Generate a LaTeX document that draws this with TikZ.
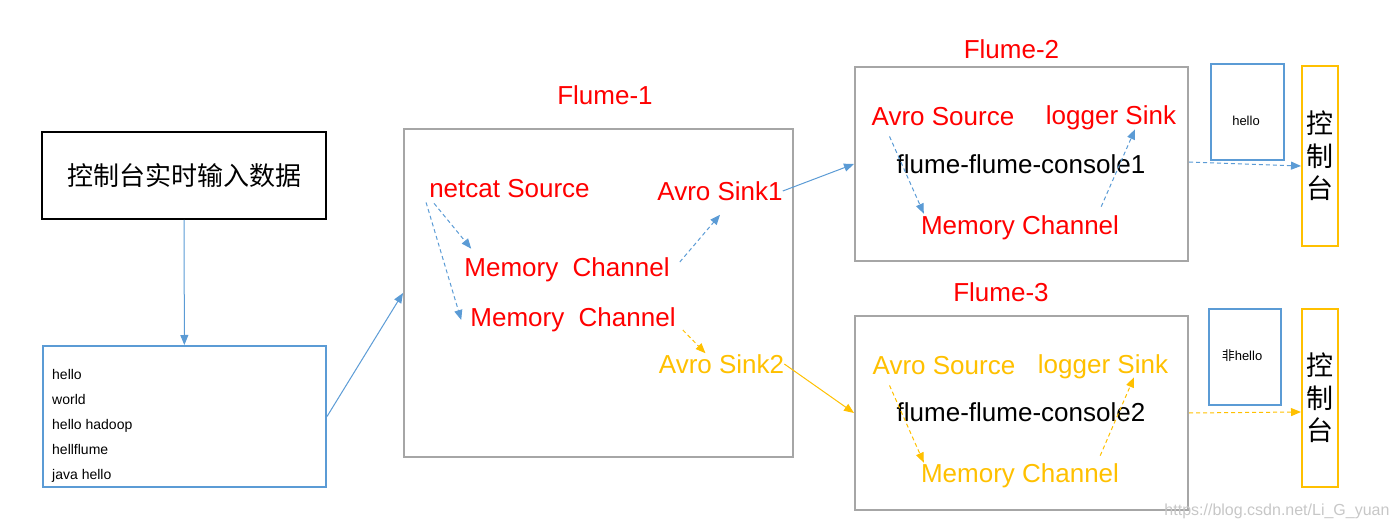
\documentclass[tikz,border=0pt]{standalone}
\usepackage{fontspec}
\setmainfont{Liberation Sans}
\newfontfamily\cjk{Noto Sans CJK SC}
\usetikzlibrary{arrows.meta}

\definecolor{flblue}{HTML}{5B9BD5}
\definecolor{flgray}{HTML}{A6A6A6}
\definecolor{flred}{HTML}{FF0000}
\definecolor{florange}{HTML}{FFC000}

\begin{document}
\begin{tikzpicture}[x=1pt, y=-1pt,
  agent/.style={draw=flgray, line width=2pt, minimum width=333pt, minimum height=194pt},
  frame/.style={line width=2pt, inner sep=0pt},
  comp/.style={inner sep=0pt, font=\fontsize{26}{30}\selectfont},
  flow/.style={-{Triangle[length=10pt,width=8pt]}, line width=1pt},
  hop/.style={flow, dash pattern=on 4pt off 3pt}]
  \useasboundingbox (0,0) rectangle (1394,529);

  % input side
  \node[frame, draw=black, minimum width=284pt, minimum height=87pt] (input) at (184,175.5) {\fontsize{26}{30}\selectfont\cjk 控制台实时输入数据};
  \node[frame, draw=flblue, minimum width=283pt, minimum height=141pt] (list) at (184.5,416.5) {};
  \node[anchor=west, align=left, inner sep=0pt, font=\fontsize{14}{25}\selectfont] (lines) at (52,425.5) {hello\\world\\hello hadoop\\hellflume\\java hello};

  % Flume-1
  \node[agent, minimum width=389pt, minimum height=328pt] (f1) at (598.5,293) {};
  \node[comp, text=flred] (t1) at (605,95) {Flume-1};
  \node[comp, text=flred] (src) at (509.5,189) {netcat Source};
  \node[comp, text=flred] (sink1) at (720,191) {Avro Sink1};
  \node[comp, text=flred] (mc1) at (567,270) {Memory\ \ Channel};
  \node[comp, text=flred] (mc2) at (573,320) {Memory\ \ Channel};
  \node[comp, text=florange] (sink2) at (721.5,364) {Avro Sink2};

  % Flume-2
  \node[agent] (f2) at (1021.5,164) {};
  \node[comp, text=flred] (t2) at (1011.5,49) {Flume-2};
  \node[comp, text=flred] (asrc1) at (943,117) {Avro Source};
  \node[comp, text=flred] (lsink1) at (1111,118) {logger Sink};
  \node[comp] (con1) at (1021,164) {flume-flume-console1};
  \node[comp, text=flred] (mc3) at (1020,228) {Memory Channel};

  % Flume-3
  \node[agent] (f3) at (1021.5,413) {};
  \node[comp, text=flred] (t3) at (1001,292) {Flume-3};
  \node[comp, text=florange] (asrc2) at (944,366) {Avro Source};
  \node[comp, text=florange] (lsink2) at (1103,367) {logger Sink};
  \node[comp] (con2) at (1021,412) {flume-flume-console2};
  \node[comp, text=florange] (mc4) at (1020,476) {Memory Channel};

  % consoles
  \node[frame, draw=flblue, minimum width=73pt, minimum height=96pt] (out1) at (1247.5,112) {};
  \node[inner sep=0pt, font=\fontsize{13}{15}\selectfont] (msg1) at (1246,121) {hello};
  \node[frame, draw=florange, minimum width=36pt, minimum height=180pt, align=center, font=\fontsize{27}{32.5}\selectfont\cjk] (con1box) at (1320,156) {控\\制\\台};
  \node[frame, draw=flblue, minimum width=72pt, minimum height=96pt] (out2) at (1245,357) {};
  \node[inner sep=0pt, font=\fontsize{13}{15}\selectfont] (msg2) at (1242,356) {{\cjk 非}hello};
  \node[frame, draw=florange, minimum width=36pt, minimum height=178pt, align=center, font=\fontsize{27}{32.5}\selectfont\cjk] (con2box) at (1320,398) {控\\制\\台};

  \node[text=black!22, inner sep=0pt, font=\fontsize{16}{18}\selectfont] (mark) at (1277,511) {https://blog.csdn.net/Li\_G\_yuan};

  \path[flow, flblue]
  (input) edge (list)
  (list.east) edge (f1.west)
  (sink1.east) edge (f2.west)
  ;
  \path[flow, florange]
  (sink2.east) edge (f3.west)
  ;
  \path[hop, flblue]
  ([shift={(5pt,-5pt)}]src.south west) edge ([shift={(7pt,9pt)}]mc1.north west)
  ([shift={(-3pt,-4pt)}]src.south west) edge ([xshift=-9pt]mc2.west)
  ([shift={(10pt,8pt)}]mc1.east) edge ([yshift=-14pt]sink1.south)
  ([shift={(18pt,-10pt)}]asrc1.south west) edge ([shift={(3pt,2pt)}]mc3.north west)
  ([shift={(-18pt,9pt)}]mc3.north east) edge ([shift={(24pt,1pt)}]lsink1.south)
  ([yshift=2pt]f2.east) edge ([yshift=-10pt]con1box.west)
  ;
  \path[hop, florange]
  ([shift={(7pt,-10pt)}]mc2.east) edge ([shift={(-16pt,1pt)}]sink2.north)
  ([shift={(17pt,-10pt)}]asrc2.south west) edge ([shift={(3pt,1pt)}]mc4.north west)
  ([shift={(-19pt,8pt)}]mc4.north east) edge ([shift={(31pt,2pt)}]lsink2.south)
  (f3.east) edge ([yshift=-14pt]con2box.west)
  ;
\end{tikzpicture}
\end{document}
